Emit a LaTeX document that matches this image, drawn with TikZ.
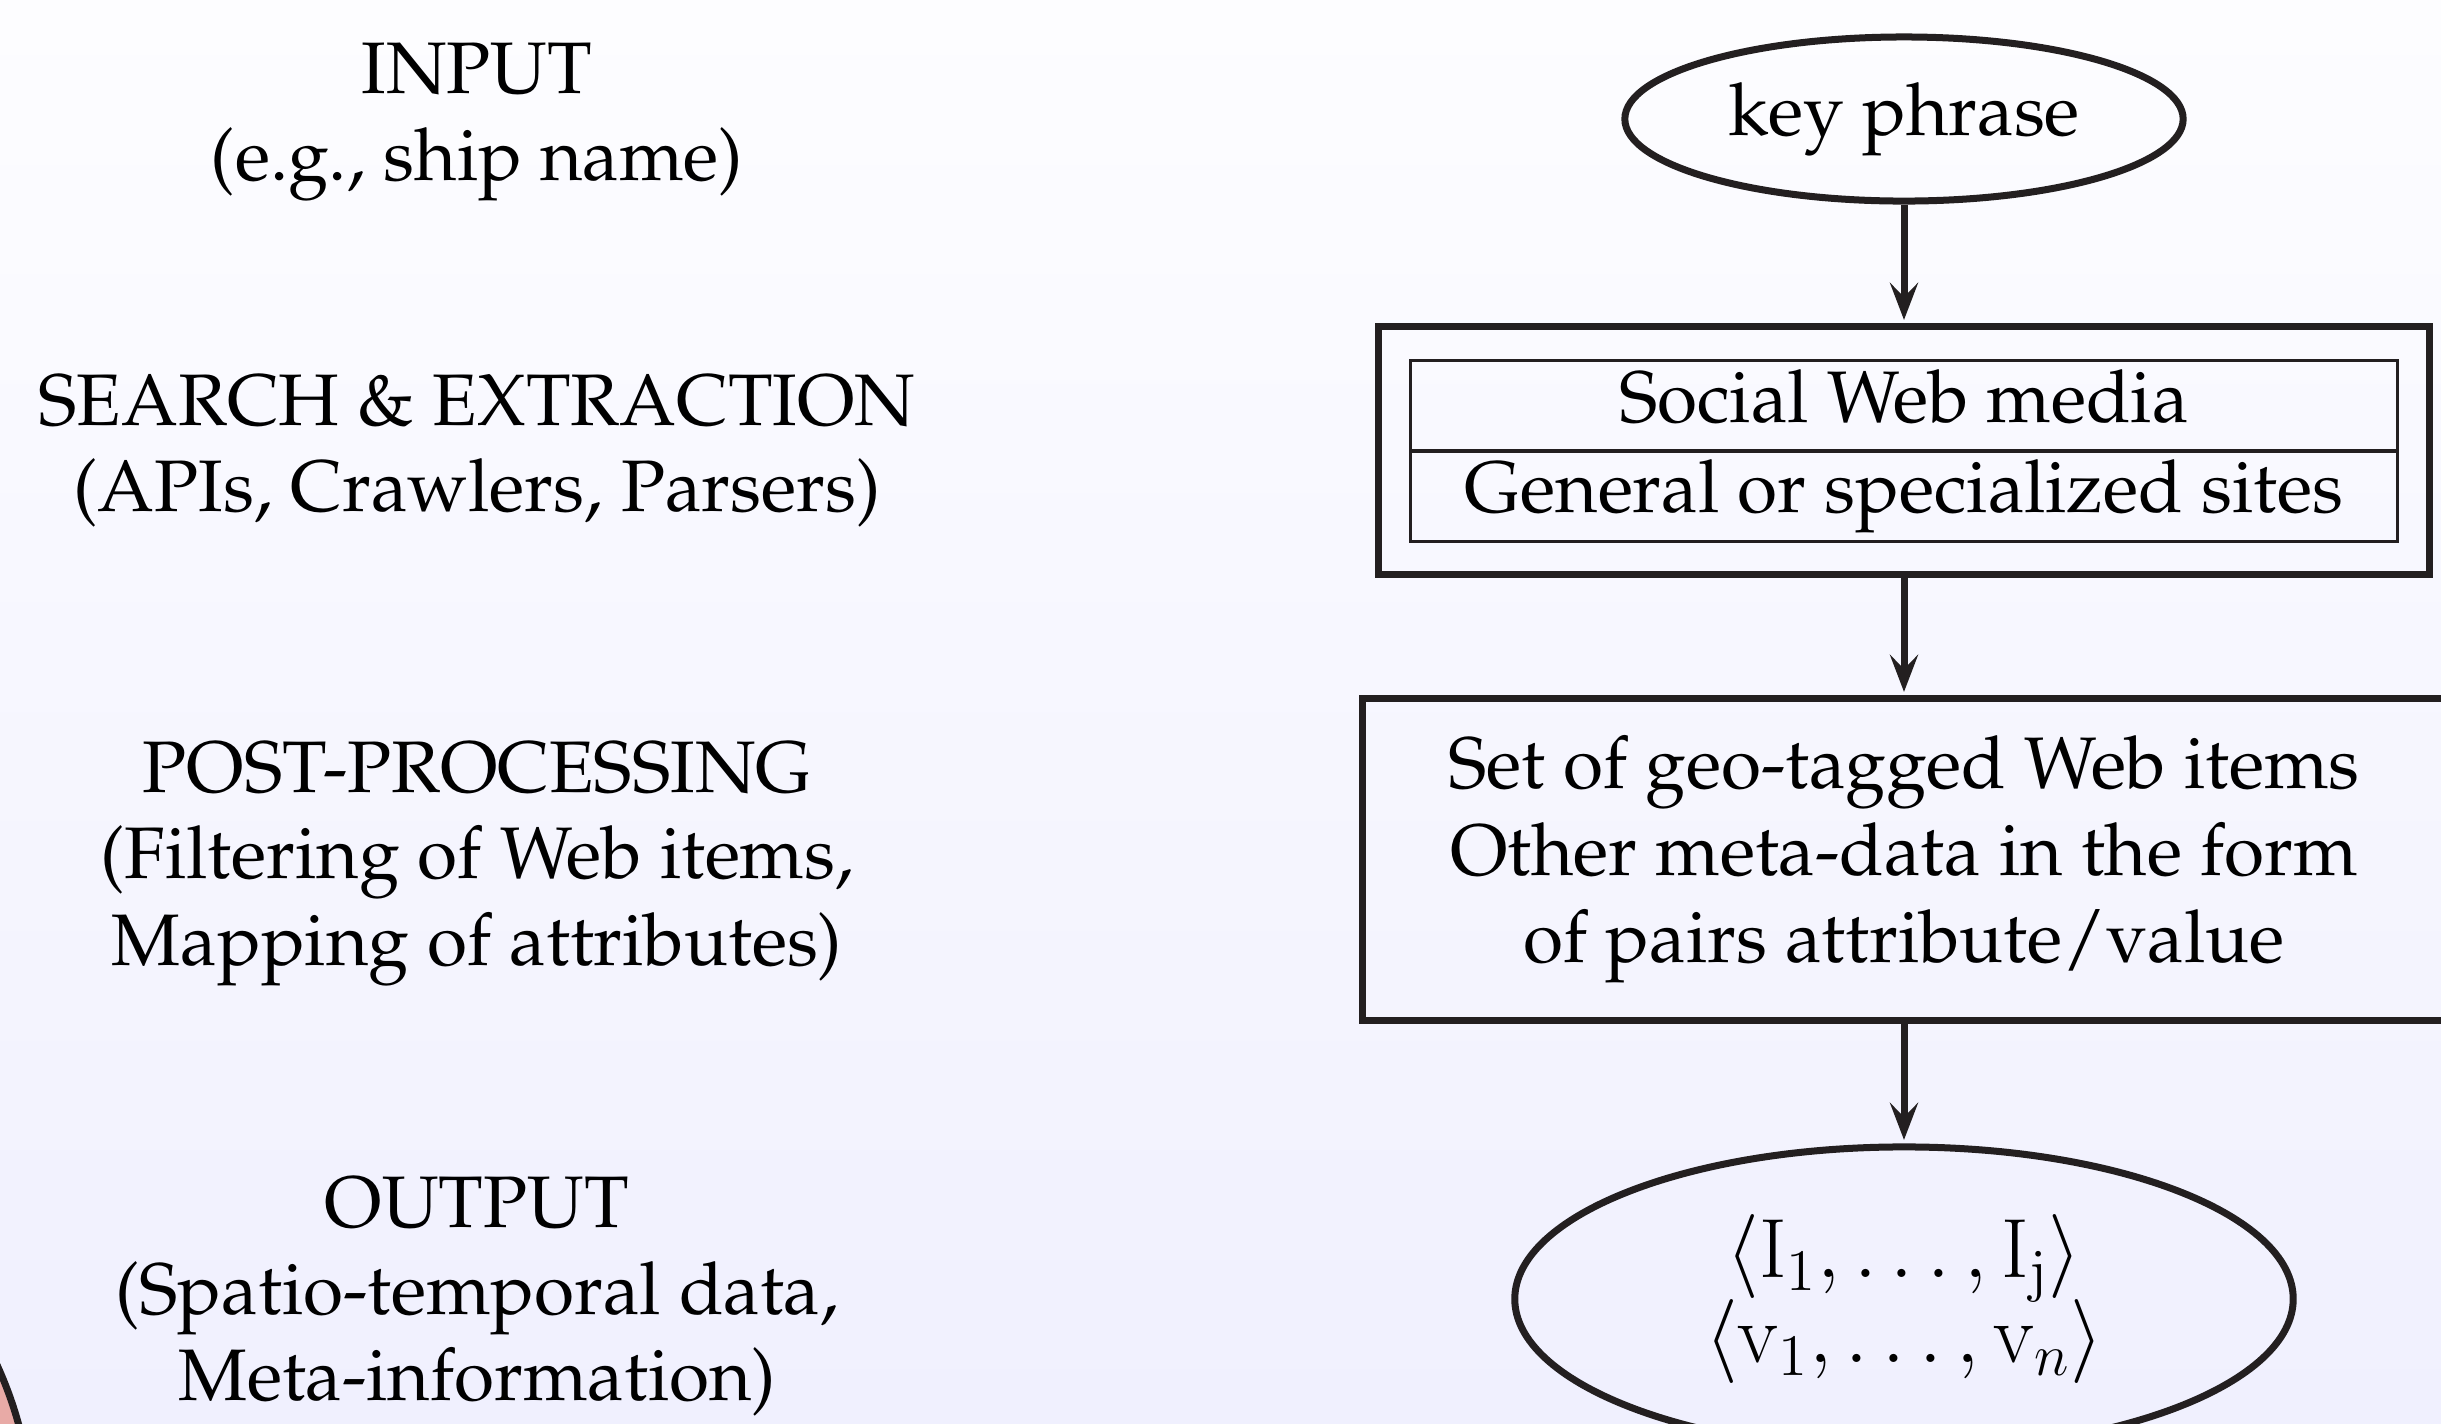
\RequirePackage{fix-cm}
\documentclass[tikz,border=0pt]{standalone}
\usepackage[T1]{fontenc}
\renewcommand{\rmdefault}{ppl}
\usetikzlibrary{shapes.geometric,arrows.meta}

\definecolor{ink}{RGB}{35,31,32}
\definecolor{bgtop}{RGB}{253,253,255}
\definecolor{bgbot}{RGB}{240,240,254}
\definecolor{rose}{RGB}{232,170,166}

% larger type, tight leading for the result tuples
\newcommand{\tuplefont}{\fontsize{23.9}{24.2}\selectfont\lineskiplimit=-20pt\relax}

\tikzset{
  lbl/.style={anchor=base, inner sep=0pt},
  frame/.style={draw=ink, line width=0.07cm, inner sep=0pt},
  oval/.style={frame, ellipse},
  cell/.style={draw=ink, line width=0.03cm, inner sep=0pt,
    minimum width=9.87cm, minimum height=0.9cm,
    text height=15pt, text depth=5.5pt},
  flow/.style={draw=ink, line width=0.07cm, shorten >=0.035cm,
    -{Stealth[length=0.37cm,width=0.28cm,inset=0.14cm]}}
}

\begin{document}
\begin{tikzpicture}[x=0.01cm, y=-0.01cm, font=\fontsize{20.75}{24.66}\selectfont]
  \useasboundingbox (0,0) rectangle (2441,1423);
  \clip (0,0) rectangle (2441,1423);
  \shade[top color=bgtop, bottom color=bgbot] (0,0) rectangle (2441,1423);

  % corner ornament
  \filldraw[fill=rose, draw=ink, line width=0.07cm] (-367,1531) circle [radius=400];

  % stage captions
  \node[lbl] (inputA)  at (477,93)   {INPUT};
  \node[lbl] (inputB)  at (477,180)  {(e.g., ship name)};
  \node[lbl] (searchA) at (477,425)  {SEARCH \& EXTRACTION};
  \node[lbl] (searchB) at (477,511)  {(APIs, Crawlers, Parsers)};
  \node[lbl] (postA)   at (477,792)  {POST-PROCESSING};
  \node[lbl] (postB)   at (477,878)  {(Filtering of Web items,};
  \node[lbl] (postC)   at (477,965)  {Mapping of attributes)};
  \node[lbl] (outA)    at (477,1227) {OUTPUT};
  \node[lbl] (outB)    at (477,1314) {(Spatio-temporal data,};
  \node[lbl] (outC)    at (477,1400) {Meta-information)};

  % flow chart
  \node[oval, minimum width=5.58cm, minimum height=1.64cm] (key) at (1904,119) {key phrase};

  \node[frame, minimum width=10.51cm, minimum height=2.47cm] (search) at (1904,450.5) {};
  \node[cell] (social) at (1904,406) {Social Web media};
  \node[cell] (sites)  at (1904,496) {General or specialized sites};

  \node[frame, minimum width=10.82cm, minimum height=3.21cm, align=center] (post) at (1904,859.5)
    {Set of geo-tagged Web items\\Other meta-data in the form\\of pairs attribute/value};

  \node[oval, minimum width=7.78cm, minimum height=3.04cm, align=center,
        font=\tuplefont] (out) at (1904,1299)
    {$\langle \mathrm{I}_1,\ldots,\mathrm{I}_{\mathrm{j}}\rangle$\\$\langle \mathrm{v}_1,\ldots,\mathrm{v}_n\rangle$};

  \draw[flow] (key) -- (search);
  \draw[flow] (search) -- (post);
  \draw[flow] (post) -- (out);
\end{tikzpicture}
\end{document}
